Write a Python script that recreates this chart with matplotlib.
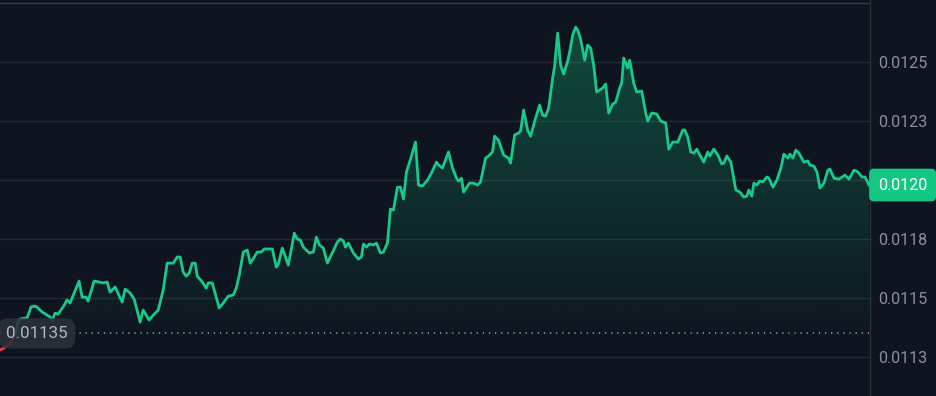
import numpy as np
import matplotlib
matplotlib.use("Agg")
import matplotlib.pyplot as plt
from matplotlib.patches import Rectangle, PathPatch
from matplotlib.transforms import blended_transform_factory

plt.rcParams['font.family'] = ['Roboto', 'DejaVu Sans']

# time steps (sample position along the window)
t = [0, 4, 9, 13, 16, 18, 20, 25, 27, 31, 35, 37, 42, 47, 50, 52, 55, 58, 63, 67,
     70, 74, 79, 82, 86, 88, 94, 99, 103, 107, 110, 115, 122, 125, 130, 134, 140, 143, 149, 154,
     158, 163, 167, 173, 177, 180, 183, 186, 189, 192, 195, 197, 202, 206, 208, 212, 214, 219, 223, 228,
     233, 236, 239, 243, 247, 250, 254, 257, 261, 264, 268, 272, 276, 278, 282, 288, 294, 297, 300, 303,
     309, 313, 316, 319, 323, 327, 337, 340, 343, 345, 348, 353, 358, 361, 363, 366, 369, 373, 376, 380,
     383, 387, 390, 393, 397, 400, 403, 406, 411, 415, 418, 422, 427, 431, 436, 438, 442, 448, 452, 456,
     458, 461, 463, 469, 473, 477, 480, 485, 488, 492, 494, 498, 503, 508, 510, 514, 518, 520, 523, 527,
     530, 535, 539, 542, 545, 548, 552, 554, 557, 560, 563, 567, 569, 572, 575, 577, 580, 584, 587, 590,
     593, 596, 602, 605, 608, 612, 615, 619, 621, 623, 627, 629, 633, 636, 641, 645, 647, 651, 656, 660,
     665, 668, 672, 677, 682, 684, 687, 690, 693, 696, 699, 703, 707, 709, 713, 717, 721, 723, 726, 730,
     735, 739, 743, 746, 748, 751, 753, 756, 759, 762, 766, 768, 772, 776, 780, 783, 787, 789, 792, 795,
     798, 803, 807, 809, 813, 816, 819, 823, 827, 829, 833, 838, 844, 848, 853, 857, 861, 864, 868]

price = [0.011280, 0.011288, 0.011305, 0.011326, 0.011356, 0.011398, 0.011411, 0.011415, 0.011415, 0.011462,
         0.011466, 0.011462, 0.011441, 0.011428, 0.011420, 0.011403, 0.011436, 0.011432, 0.011462, 0.011492,
         0.011479, 0.011521, 0.011572, 0.011504, 0.011504, 0.011487, 0.011572, 0.011568, 0.011564, 0.011568,
         0.011525, 0.011547, 0.011483, 0.011538, 0.011521, 0.011496, 0.011398, 0.011449, 0.011407, 0.011432,
         0.011449, 0.011534, 0.011648, 0.011648, 0.011674, 0.011674, 0.011610, 0.011593, 0.011606, 0.011648,
         0.011648, 0.011593, 0.011568, 0.011542, 0.011564, 0.011564, 0.011534, 0.011458, 0.011479, 0.011508,
         0.011513, 0.011542, 0.011597, 0.011695, 0.011703, 0.011648, 0.011674, 0.011695, 0.011695, 0.011708,
         0.011708, 0.011708, 0.011631, 0.011644, 0.011712, 0.011640, 0.011775, 0.011750, 0.011746, 0.011716,
         0.011691, 0.011695, 0.011758, 0.011725, 0.011712, 0.011648, 0.011737, 0.011750, 0.011742, 0.011716,
         0.011733, 0.011691, 0.011665, 0.011674, 0.011729, 0.011716, 0.011729, 0.011725, 0.011733, 0.011691,
         0.011695, 0.011733, 0.011877, 0.011873, 0.011970, 0.011970, 0.011920, 0.012034, 0.012102, 0.012161,
         0.011979, 0.011975, 0.012000, 0.012030, 0.012076, 0.012064, 0.012051, 0.012119, 0.012051, 0.012008,
         0.011996, 0.012008, 0.011949, 0.011987, 0.011987, 0.011979, 0.011992, 0.012093, 0.012102, 0.012119,
         0.012186, 0.012169, 0.012106, 0.012093, 0.012072, 0.012191, 0.012199, 0.012208, 0.012297, 0.012212,
         0.012186, 0.012263, 0.012318, 0.012275, 0.012271, 0.012305, 0.012432, 0.012483, 0.012623, 0.012487,
         0.012449, 0.012504, 0.012542, 0.012614, 0.012648, 0.012636, 0.012597, 0.012508, 0.012572, 0.012559,
         0.012487, 0.012373, 0.012390, 0.012407, 0.012284, 0.012322, 0.012330, 0.012390, 0.012411, 0.012517,
         0.012475, 0.012508, 0.012411, 0.012373, 0.012377, 0.012284, 0.012250, 0.012284, 0.012280, 0.012250,
         0.012242, 0.012131, 0.012161, 0.012161, 0.012212, 0.012212, 0.012182, 0.012119, 0.012114, 0.012131,
         0.012106, 0.012076, 0.012119, 0.012102, 0.012131, 0.012106, 0.012068, 0.012072, 0.012102, 0.012076,
         0.011958, 0.011949, 0.011928, 0.011932, 0.011958, 0.011932, 0.011987, 0.011979, 0.011996, 0.011992,
         0.012013, 0.012008, 0.011970, 0.012000, 0.012051, 0.012110, 0.012093, 0.012110, 0.012093, 0.012127,
         0.012114, 0.012076, 0.012081, 0.012064, 0.012059, 0.012034, 0.011966, 0.011987, 0.012042, 0.012047,
         0.012008, 0.012004, 0.012021, 0.012004, 0.012042, 0.012034, 0.012013, 0.012013, 0.011979]

baseline = 0.01135
ytick_vals = [0.01125, 0.0115, 0.01175, 0.0120, 0.01225, 0.0125]
ytick_labels = ['0.0113', '0.0115', '0.0118', '0.0120', '0.0123', '0.0125']
top_rule = 0.01275

BG = '#0e1420'
GREEN = '#19c98a'
RED = '#ea3943'
GRID = '#242935'

t_arr = np.array(t, dtype=float)
p_arr = np.array(price)
last_label = f'{p_arr[-1]:.4f}'

fig = plt.figure(figsize=(9.36, 3.96), dpi=100)
fig.patch.set_facecolor(BG)
ax = fig.add_axes([0, 0, 870 / 936, 1])
ax.set_facecolor(BG)

ymin, ymax = 0.011085, 0.012763
xmin, xmax = 0, 869

# grid
for v in ytick_vals:
    ax.axhline(v, color=GRID, lw=1.0, zorder=1)
ax.axhline(top_rule, color='#353a46', lw=1.0, zorder=1)

# gradient fill between line and baseline
poly = ax.fill_between(t_arr, np.maximum(p_arr, baseline), baseline, facecolor='none', edgecolor='none')
clip_patch = PathPatch(poly.get_paths()[0], transform=ax.transData, facecolor='none', edgecolor='none')
ax.add_patch(clip_patch)
poly.remove()
n = 256
grad = np.zeros((n, 1, 4))
rgb = matplotlib.colors.to_rgb('#16c784')
grad[:, 0, 0], grad[:, 0, 1], grad[:, 0, 2] = rgb
grad[:, 0, 3] = np.linspace(0.02, 0.31, n)
im = ax.imshow(grad, extent=[t_arr[0], t_arr[-1], baseline, p_arr.max()], origin='lower',
               aspect='auto', zorder=2, interpolation='bilinear')
im.set_clip_path(clip_patch)

# baseline dotted
ax.axhline(baseline, color='#a4aab5', lw=1.1, linestyle=(0, (0.8, 3.2)), zorder=3)

# price line, green above baseline, red below
up = ax.plot(t_arr, p_arr, color=GREEN, lw=2.0, solid_joinstyle='round', zorder=4)[0]
dn = ax.plot(t_arr, p_arr, color=RED, lw=2.0, solid_joinstyle='round', zorder=4)[0]
r_up = Rectangle((-100, baseline), 2000, 1, transform=ax.transData)
r_dn = Rectangle((-100, baseline - 1), 2000, 1, transform=ax.transData)
up.set_clip_path(r_up)
dn.set_clip_path(r_dn)

ax.set_xlim(xmin, xmax)
ax.set_ylim(ymin, ymax)

for s in ['top', 'left', 'bottom']:
    ax.spines[s].set_visible(False)
ax.spines['right'].set_color('#2b303b')
ax.spines['right'].set_linewidth(1.0)

# the tick at the last price is covered by the last-price tag
shown_labels = ['' if lab == last_label else lab for lab in ytick_labels]
ax.set_xticks([])
ax.yaxis.tick_right()
ax.set_yticks(ytick_vals, shown_labels)
ax.tick_params(axis='y', length=0, pad=5.5, labelcolor='#8a919e', labelsize=11.6)

tr = blended_transform_factory(ax.transAxes, ax.transData)
ax.text(6 / 870, baseline, '0.01135', transform=tr, ha='left', va='center',
        color='#b3b8c2', fontsize=12.2, zorder=6,
        bbox=dict(boxstyle='round,pad=0.45,rounding_size=0.6', fc=(0.17, 0.19, 0.23, 0.88), ec='none'))

ax.text(1 + 8 / 870, p_arr[-1], last_label, transform=tr, ha='left', va='center',
        color='white', fontsize=11.6, zorder=7, clip_on=False,
        bbox=dict(boxstyle='round,pad=0.55,rounding_size=0.3', fc='#16c784', ec='none'))

fig.savefig('out.png', dpi=100, facecolor=BG)
